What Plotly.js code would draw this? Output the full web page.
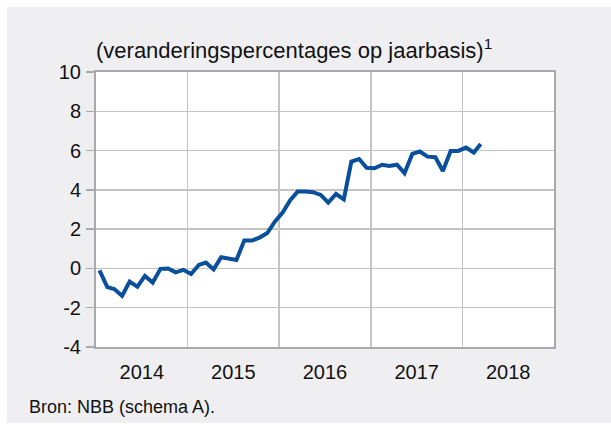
<!DOCTYPE html>
<html>
<head>
<meta charset="utf-8">
<script src="https://cdn.plot.ly/plotly-3.0.1.min.js"></script>
<style>
  html, body { margin: 0; padding: 0; background: #ffffff; width: 611px; height: 424px; overflow: hidden; }
  #chart { position: absolute; left: 7px; top: 7px; width: 604px; height: 416px; }
</style>
</head>
<body>
<div id="chart"></div>
<script>
// Year-on-year percentage changes, monthly, Jan 2014 – Mar 2018
const startYear = 2014;
const values2014 = [-0.10, -0.95, -1.05, -1.40, -0.67, -0.93, -0.38, -0.72, -0.02, 0.00, -0.20, -0.07];
const values2015 = [-0.28, 0.18, 0.30, -0.05, 0.57, 0.48, 0.43, 1.42, 1.42, 1.57, 1.80, 2.38];
const values2016 = [2.84, 3.49, 3.91, 3.91, 3.88, 3.74, 3.35, 3.79, 3.52, 5.44, 5.57, 5.12];
const values2017 = [5.10, 5.28, 5.22, 5.28, 4.85, 5.83, 5.95, 5.69, 5.66, 4.96, 5.98, 5.98];
const values2018 = [6.15, 5.90, 6.34];

const yTickVals = [-4, -2, 0, 2, 4, 6, 8, 10];
const yTickText = ["-4", "-2", "0", "2", "4", "6", "8", "10"];

const titleText = "(veranderingspercentages op jaarbasis)<sup>1</sup>";
const sourceText = "Bron: NBB (schema A).";

const yearSeries = [values2014, values2015, values2016, values2017, values2018];
const xs = [], ys = [];
yearSeries.forEach((arr, yi) => {
  arr.forEach((v, mi) => {
    const m = String(mi + 1).padStart(2, "0");
    xs.push((startYear + yi) + "-" + m + "-15");
    ys.push(v);
  });
});

const font = "Liberation Sans, Arial, sans-serif";
const bg = "#efeff2";

Plotly.newPlot("chart", [{
  x: xs, y: ys, type: "scatter", mode: "lines",
  line: { color: "#0a4f9c", width: 4 },
  hoverinfo: "skip"
}], {
  width: 604, height: 416,
  paper_bgcolor: bg, plot_bgcolor: "#ffffff",
  margin: { l: 89, r: 57, t: 65, b: 76 },
  showlegend: false,
  title: {
    text: titleText,
    font: { family: font, size: 22, color: "#111111" },
    xref: "paper", x: 0, xanchor: "left",
    yref: "container", y: 0.896, yanchor: "middle"
  },
  xaxis: {
    type: "date",
    range: ["2014-01-01", "2019-01-01"],
    tick0: "2014-01-01", dtick: "M12",
    tickformat: "%Y", ticklabelmode: "period",
    ticks: "", ticklabelstandoff: 6,
    showgrid: true, gridcolor: "#c4c4c4", gridwidth: 1.5,
    showline: true, mirror: true, linecolor: "#a9a9a9", linewidth: 2,
    tickfont: { family: font, size: 20, color: "#111111" },
    fixedrange: true
  },
  yaxis: {
    range: [-4, 10], tickmode: "array", tickvals: yTickVals, ticktext: yTickText,
    ticks: "outside", ticklen: 8, tickcolor: "#a9a9a9", tickwidth: 1.5,
    ticklabelstandoff: 1,
    showgrid: true, gridcolor: "#c4c4c4", gridwidth: 1.5, zeroline: false,
    showline: true, mirror: true, linecolor: "#a9a9a9", linewidth: 2,
    tickfont: { family: font, size: 20, color: "#111111" },
    fixedrange: true
  },
  annotations: [{
    text: sourceText, showarrow: false,
    xref: "paper", yref: "paper",
    x: (27 - 96) / 458, xanchor: "left",
    y: -(407 - 347) / 275, yanchor: "middle",
    font: { family: font, size: 18, color: "#111111" }
  }]
}, { staticPlot: true, displayModeBar: false });
</script>
</body>
</html>
